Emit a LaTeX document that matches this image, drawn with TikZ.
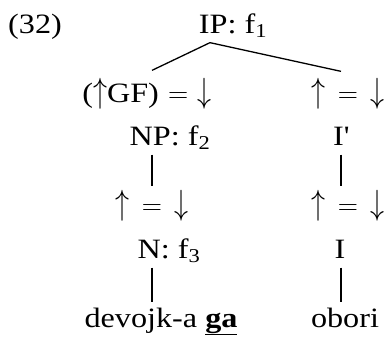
\RequirePackage{fix-cm}
\documentclass[tikz,border=0pt]{standalone}
\usepackage{graphicx}
\usepackage{fontspec}
\setmainfont[FakeStretch=1.15]{Liberation Serif}
\newcommand\upa{\scalebox{1}[1.25]{$\uparrow$}}
\newcommand\dna{\scalebox{1}[1.25]{$\downarrow$}}

\tikzset{lfg/.style={anchor=base, inner sep=2pt, text height=25pt, text depth=7pt, font=\fontsize{28}{32}\selectfont}}

\begin{document}
\begin{tikzpicture}[x=1pt, y=-1pt, line width=1.3pt]
\useasboundingbox (0,0) rectangle (385,338);
\node[lfg] (ex) at (35,33) {(32)};
\node[lfg] (ip) at (233,33) {IP: f\textsubscript{1}};
\node[lfg] (gf) at (147,102) {(\upa GF)\,\,$=$\,\,\dna};
\node[lfg] (eq1) at (348,102) {$\upa \,=\, \dna$};
\node[lfg] (np) at (170,145) {NP: f\textsubscript{2}};
\node[lfg] (ibar) at (341,145) {I\textquotesingle};
\node[lfg] (eq2) at (152,214) {$\upa \,=\, \dna$};
\node[lfg] (eq3) at (348,214) {$\upa \,=\, \dna$};
\node[lfg] (n) at (169,258) {N: f\textsubscript{3}};
\node[lfg] (i) at (340,258) {I};
\node[lfg] (w1) at (161,327) {devojk-a \underline{\textbf{ga}}};
\node[lfg] (w2) at (345,327) {obori};
\coordinate (top) at (210,0);
\coordinate (left) at (152,0);
\coordinate (right) at (341,0);
\draw (ip.south -| top) -- ([yshift=4pt]gf.north -| left);
\draw (ip.south -| top) -- ([yshift=3pt]eq1.north -| right);
\draw (np.south -| left) -- (eq2.north -| left);
\draw (n.south -| left) -- ([yshift=-3pt]w1.north -| left);
\draw (ibar.south -| right) -- (eq3.north -| right);
\draw (i.south -| right) -- ([yshift=-3pt]w2.north -| right);
\end{tikzpicture}
\end{document}
